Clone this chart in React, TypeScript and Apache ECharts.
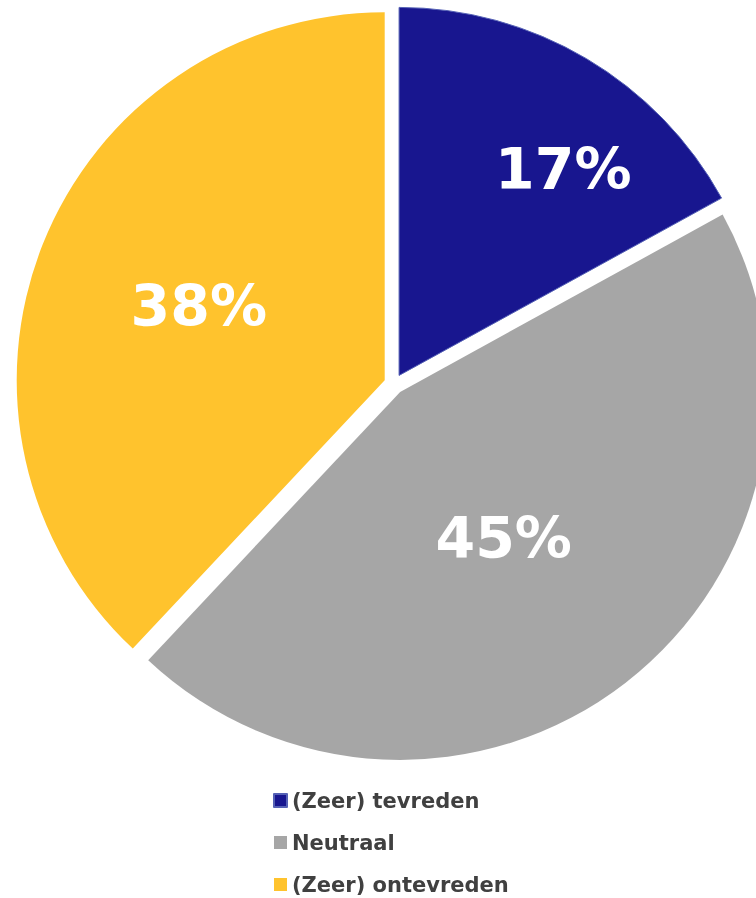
import React, { useEffect, useRef } from "react";
import * as echarts from "echarts";

const categories = ["(Zeer) tevreden", "Neutraal", "(Zeer) ontevreden"];
const values = [17, 45, 38];
const colors = ["#18168f", "#a6a6a6", "#ffc32d"];
const borderColors = ["#5561b5", "#a6a6a6", "#ffc32d"];
const borderWidths = [1, 0, 0];
const labelOffsets: [number, number][] = [[69, -45], [-11, -2], [-12, -5]];

export default function App() {
  const ref = useRef<HTMLDivElement>(null);
  useEffect(() => {
    if (!ref.current) return;
    const chart = echarts.init(ref.current, undefined, { renderer: "svg" });
    chart.setOption({
      animation: false,
      legend: {
        orient: "vertical",
        left: 273,
        top: 790,
        padding: 0,
        itemWidth: 13,
        itemHeight: 13,
        itemGap: 21,
        icon: "rect",
        selectedMode: false,
        data: categories,
        textStyle: {
          fontFamily: "DejaVu Sans",
          fontWeight: "bold",
          fontSize: 21,
          color: "#404040",
        },
      },
      series: [
        {
          type: "pie",
          center: [394, 384],
          radius: 368,
          startAngle: 90,
          clockwise: true,
          selectedMode: "multiple",
          selectedOffset: 10,
          emphasis: { disabled: true },
          labelLine: { show: false },
          label: {
            show: true,
            position: "inside",
            formatter: "{c}%",
            fontFamily: "DejaVu Sans",
            fontWeight: "bold",
            fontSize: 57,
            color: "#ffffff",
          },
          labelLayout: (params: any) => ({
            dx: labelOffsets[params.dataIndex][0],
            dy: labelOffsets[params.dataIndex][1],
          }),
          data: categories.map((name, i) => ({
            name,
            value: values[i],
            selected: true,
            itemStyle: {
              color: colors[i],
              borderColor: borderColors[i],
              borderWidth: borderWidths[i],
            },
          })),
        },
      ],
    });
    return () => chart.dispose();
  }, []);
  return (
    <div
      ref={ref}
      style={{ position: "fixed", left: 0, top: 0, width: 756, height: 898 }}
    />
  );
}
